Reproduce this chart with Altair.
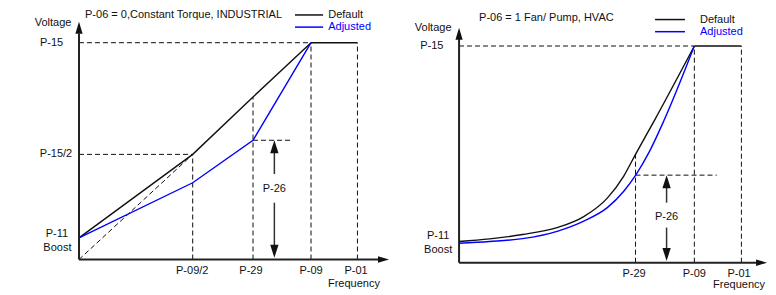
import altair as alt
import pandas as pd

FONT = "Liberation Sans"
BLUE = "#0000ff"
INK = "#111111"

# ---------------- data (frequency in % of P-09, voltage in % of P-15) ----------------
# Left: P-06 = 0, constant torque
L_title = "P-06 = 0,Constant Torque, INDUSTRIAL"
L_freq_names = ["P-09/2", "P-29", "P-09", "P-01"]
L_freq_vals = [49, 75, 100, 120]
L_volt_names = ["P-15", "P-15/2"]
L_volt_vals = [100, 48.5]
L_boost = 10
L_default_f = [0, 49, 75, 100]
L_default_v = [10, 48.5, 75, 100]
L_adjusted_f = [0, 49, 75, 100]
L_adjusted_v = [10, 35.4, 55, 100]
L_p26_level = 55

# Right: P-06 = 1, fan / pump
R_title = "P-06 = 1 Fan/ Pump, HVAC"
R_freq_names = ["P-29", "P-09", "P-01"]
R_freq_vals = [75, 100, 120]
R_volt_names = ["P-15"]
R_volt_vals = [100]
R_boost = 10
R_default_f = [0, 13, 27, 42, 53, 63, 70, 75, 83, 100]
R_default_v = [9.8, 11.0, 13.0, 16.3, 21.3, 29.8, 40.0, 50, 65.6, 100]
R_adjusted_f = [0, 13, 27, 42, 53, 63, 70, 75, 81, 87, 100]
R_adjusted_v = [9.0, 9.8, 11.1, 14.6, 19.2, 25.4, 33.0, 40.3, 51.5, 65.4, 100]
R_p26_level = 40.4

# ---------------- layout per panel ----------------
WL, WR, H = 384, 376, 279
LEFT = dict(
    xdom=[-30.6, 134.9], ydom=[-13.14, 115.55],
    ytip=109.7, ybase=104.2, xtip=133.6, xbase=128.9,
    ylab_f={"Voltage": -11.2, "P-15": -11.8, "P-15/2": -9.9, "P-11": -9.5, "Boost": -9.3},
    ylab_v={"Voltage": 109.1, "P-11": 11.8, "Boost": 5.4},
    xlab_v=-5.4, freq_lab=(118.5, -11.3),
    xlab_shift={"P-09/2": -0.2, "P-29": -0.9, "P-09": 0, "P-01": -0.6},
    title=(2.6, 112.8), leg_f=(93.1, 105.2, 107.4), leg_v=(112.8, 107.2),
    p26_f=84.2, p26_end=92.2, p26_gap=(39.4, 26.2), p26_lab=32.5,
    diag=True, interp="linear", width=WL,
)
RIGHT = dict(
    xdom=[-28.5, 131.3], ydom=[-11.68, 117.07],
    ytip=108.4, ybase=103.8, xtip=130.9, xbase=126.4,
    ylab_f={"Voltage": -11.0, "P-15": -11.6, "P-11": -8.9, "Boost": -8.9},
    ylab_v={"Voltage": 108.4, "P-11": 12.3, "Boost": 5.9},
    xlab_v=-5.1, freq_lab=(119.0, -10.2),
    xlab_shift={"P-29": -0.6, "P-09": 0, "P-01": -1.0},
    title=(8.5, 112.8), leg_f=(83.3, 96.0, 102.4), leg_v=(112.2, 106.6),
    p26_f=88.2, p26_end=109.5, p26_gap=(27.7, 16.2), p26_lab=21.1,
    diag=False, interp="monotone", width=WR,
)


def panel(lay, title, fnames, fvals, vnames, vvals, boost, df_f, df_v, ad_f, ad_v, p26):
    XS = alt.Scale(domain=lay["xdom"], nice=False, zero=False)
    YS = alt.Scale(domain=lay["ydom"], nice=False, zero=False)

    def enc(ch, **extra):
        return ch.encode(x=alt.X("x:Q", scale=XS, axis=None),
                         y=alt.Y("y:Q", scale=YS, axis=None), **extra)

    def rule_layer(rows, **kw):
        df = pd.DataFrame(rows, columns=["x", "y", "x2", "y2"])
        return enc(alt.Chart(df).mark_rule(**kw), x2="x2:Q", y2="y2:Q")

    top_f = max(fvals[:-1])  # P-09
    top_v = vvals[0]        # P-15

    def default_at(f):
        if f >= top_f:
            return top_v
        return df_v[df_f.index(f)]

    guides = [[0, top_v, top_f, top_v]]
    for n, v in zip(vnames[1:], vvals[1:]):
        idx = df_v.index(v)
        guides.append([0, v, df_f[idx], v])
    for f in fvals:
        guides.append([f, 0, f, default_at(f)])
    if lay["diag"]:
        guides.append([0, 0, df_f[1], df_v[1]])
    p29 = fvals[fnames.index("P-29")]
    guides.append([p29, p26, lay["p26_end"], p26])

    layers = []
    layers.append(rule_layer(guides, color=INK, strokeWidth=1, strokeDash=[5, 3]))
    layers.append(rule_layer([[0, 0, lay["xbase"], 0], [0, 0, 0, lay["ybase"]]],
                             color="#222222", strokeWidth=2))
    g1, g2 = lay["p26_gap"]
    pf = lay["p26_f"]
    layers.append(rule_layer([[pf, p26 - 4, pf, g1], [pf, g2, pf, 3]],
                             color="#333333", strokeWidth=1.5))

    def head(x, y, path, size, color):
        df = pd.DataFrame({"x": [x], "y": [y]})
        return enc(alt.Chart(df).mark_point(shape=path, size=size, filled=True,
                                            color=color, opacity=1, strokeWidth=0))

    layers.append(head(0, lay["ytip"], "M0,0L0.3,1L-0.3,1Z", 576, "#111111"))
    layers.append(head(lay["xtip"], 0, "M0,0L-1,0.3L-1,-0.3Z", 484, "#111111"))
    layers.append(head(pf, p26, "M0,0L0.32,1L-0.32,1Z", 676, "#111111"))
    layers.append(head(pf, 0.8, "M0,0L0.32,-1L-0.32,-1Z", 676, "#111111"))

    cur = pd.DataFrame({
        "x": df_f + ad_f,
        "y": df_v + ad_v,
        "series": ["Default"] * len(df_f) + ["Adjusted"] * len(ad_f),
        "order": list(range(len(df_f))) + list(range(len(ad_f))),
    })
    layers.append(enc(alt.Chart(cur).mark_line(strokeWidth=1.4, interpolate=lay["interp"]),
                      color=alt.Color("series:N", scale=alt.Scale(domain=["Default", "Adjusted"],
                                                                  range=[INK, BLUE]), legend=None),
                      order="order:Q"))
    p01 = fvals[-1]
    layers.append(rule_layer([[top_f, top_v, p01, top_v]], color=INK, strokeWidth=1.6))

    lf0, lf1, ltx = lay["leg_f"]
    lv0, lv1 = lay["leg_v"]
    layers.append(rule_layer([[lf0, lv0, lf1, lv0]], color=INK, strokeWidth=1.5))
    layers.append(rule_layer([[lf0, lv1, lf1, lv1]], color=BLUE, strokeWidth=1.5))

    center_rows = []
    yl = lay["ylab_f"]
    yv = lay["ylab_v"]
    center_rows.append([yl["Voltage"], yv["Voltage"], "Voltage", INK])
    for n, v in zip(vnames, vvals):
        center_rows.append([yl[n], v, n, INK])
    center_rows.append([yl["P-11"], yv["P-11"], "P-11", INK])
    center_rows.append([yl["Boost"], yv["Boost"], "Boost", INK])
    for n, f in zip(fnames, fvals):
        center_rows.append([f + lay["xlab_shift"][n], lay["xlab_v"], n, INK])
    center_rows.append([lay["freq_lab"][0], lay["freq_lab"][1], "Frequency", INK])
    center_rows.append([pf, lay["p26_lab"], "P-26", INK])
    ct = pd.DataFrame(center_rows, columns=["x", "y", "text", "color"])
    layers.append(enc(alt.Chart(ct).mark_text(font=FONT, fontSize=11, align="center",
                                              baseline="middle"),
                      text="text:N", color=alt.Color("color:N", scale=None)))
    left_rows = [
        [lay["title"][0], lay["title"][1], title, INK],
        [ltx, lv0, "Default", INK],
        [ltx, lv1, "Adjusted", BLUE],
    ]
    lt = pd.DataFrame(left_rows, columns=["x", "y", "text", "color"])
    layers.append(enc(alt.Chart(lt).mark_text(font=FONT, fontSize=11, align="left",
                                              baseline="middle"),
                      text="text:N", color=alt.Color("color:N", scale=None)))

    return alt.layer(*layers).properties(width=lay["width"], height=H)


left = panel(LEFT, L_title, L_freq_names, L_freq_vals, L_volt_names, L_volt_vals, L_boost,
             L_default_f, L_default_v, L_adjusted_f, L_adjusted_v, L_p26_level)
right = panel(RIGHT, R_title, R_freq_names, R_freq_vals, R_volt_names, R_volt_vals, R_boost,
              R_default_f, R_default_v, R_adjusted_f, R_adjusted_v, R_p26_level)

chart = (alt.hconcat(left, right, spacing=0, bounds="flush")
         .resolve_scale(x="independent", y="independent", color="independent")
         .properties(padding=0, background="white")
         .configure_view(stroke=None))

chart.save("out.html", embed_options={"renderer": "svg", "actions": False})
